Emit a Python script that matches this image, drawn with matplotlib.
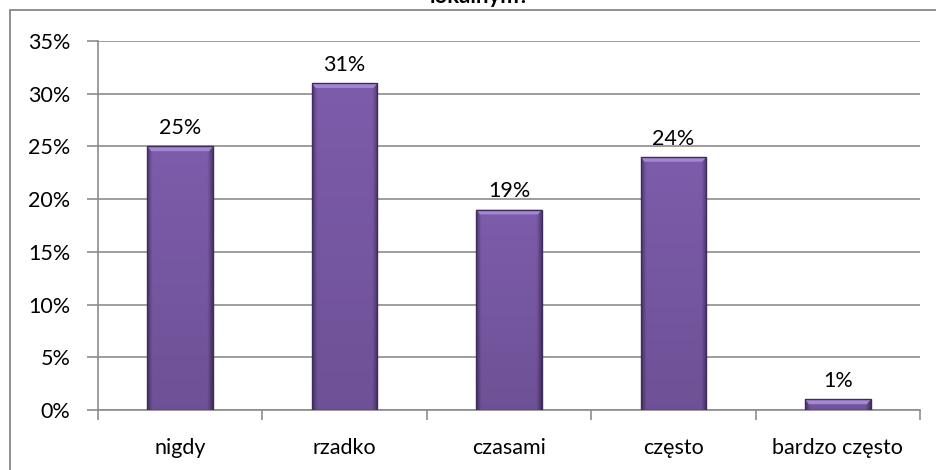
import numpy as np
import matplotlib
matplotlib.use("Agg")
import matplotlib.pyplot as plt
from matplotlib.patches import Rectangle
from matplotlib.ticker import FixedLocator, NullFormatter

plt.rcParams['font.family'] = ['Lato', 'DejaVu Sans']

categories = ["nigdy", "rzadko", "czasami", "często", "bardzo często"]
values = [25, 31, 19, 24, 1]
yticks = [0, 5, 10, 15, 20, 25, 30, 35]
ytick_labels = ["0%", "5%", "10%", "15%", "20%", "25%", "30%", "35%"]
title = "lokalnym?"

W, H = 936, 470
FS = 15.5
fig = plt.figure(figsize=(W / 100, H / 100), dpi=100)
fig.patch.set_facecolor("white")

# outer chart border (cut at right and bottom)
fig.patches.append(Rectangle((10 / W, -0.05), 1.2, (H - 10) / H + 0.05,
                             transform=fig.transFigure, fill=False,
                             edgecolor="#878787", linewidth=1.3, zorder=0))

left, right, top, bottom = 98, 920, 41, 410
ax = fig.add_axes([left / W, 1 - bottom / H, (right - left) / W, (bottom - top) / H])

gray = "#8c8c8c"
x = np.arange(len(categories))
bars = ax.bar(x, values, width=0.40, color="#7b5aa6", edgecolor="#3f2c5e",
              linewidth=1.0, zorder=3)

# gradient fill on each bar
ny, nx = 60, 60
xx = np.linspace(-1, 1, nx)
yy = np.linspace(0, 1, ny)
base = np.array([0.49, 0.36, 0.67])
img = np.zeros((ny, nx, 3))
for i, yv in enumerate(yy):
    for j, xv in enumerate(xx):
        edge = np.clip((np.abs(xv) - 0.85) / 0.15, 0, 1)
        shade = 1.0 - 0.12 * (1 - yv) - 0.35 * edge
        img[i, j] = np.clip(base * shade, 0, 1)
for b in bars:
    x0, w, h = b.get_x(), b.get_width(), b.get_height()
    im = ax.imshow(img, extent=[x0, x0 + w, 0, h], origin="lower",
                   aspect="auto", zorder=3.5, interpolation="bilinear")
    im.set_clip_path(b)
    # light top bevel
    bev = min(0.45, h * 0.5)
    ax.fill([x0, x0 + w, x0 + w * 0.94, x0 + w * 0.06],
            [h, h, h - bev, h - bev], color="#a386d4", zorder=3.6, lw=0)
    b.set_zorder(4)
    b.set_facecolor("none")

for xi, v in zip(x, values):
    ax.annotate(f"{v}%", (xi, v), xytext=(0, 6), textcoords="offset points",
                ha="center", va="bottom", fontsize=FS, color="black")

ax.set_xlim(-0.5, len(categories) - 0.5)
ax.set_ylim(0, 35)
ax.set_yticks(yticks)
ax.set_yticklabels(ytick_labels, fontsize=FS)
ax.yaxis.grid(True, color=gray, linewidth=1.2, zorder=0)
ax.set_axisbelow(True)

ax.set_xticks(x)
ax.set_xticklabels(categories, fontsize=FS)
ax.tick_params(axis="x", which="major", length=0, pad=20)
ax.xaxis.set_minor_locator(FixedLocator(np.arange(len(categories) + 1) - 0.5))
ax.xaxis.set_minor_formatter(NullFormatter())
ax.tick_params(axis="x", which="minor", length=7, color=gray, width=1.2)
ax.tick_params(axis="y", length=8, color=gray, width=1.2, pad=12)

for s in ["top", "right"]:
    ax.spines[s].set_visible(False)
for s in ["left", "bottom"]:
    ax.spines[s].set_color(gray)
    ax.spines[s].set_linewidth(1.2)

fig.text(480 / W, 1 - 3 / H, title, ha="center", va="baseline",
         fontsize=16, fontweight="bold")

fig.savefig("out.png", dpi=100)
